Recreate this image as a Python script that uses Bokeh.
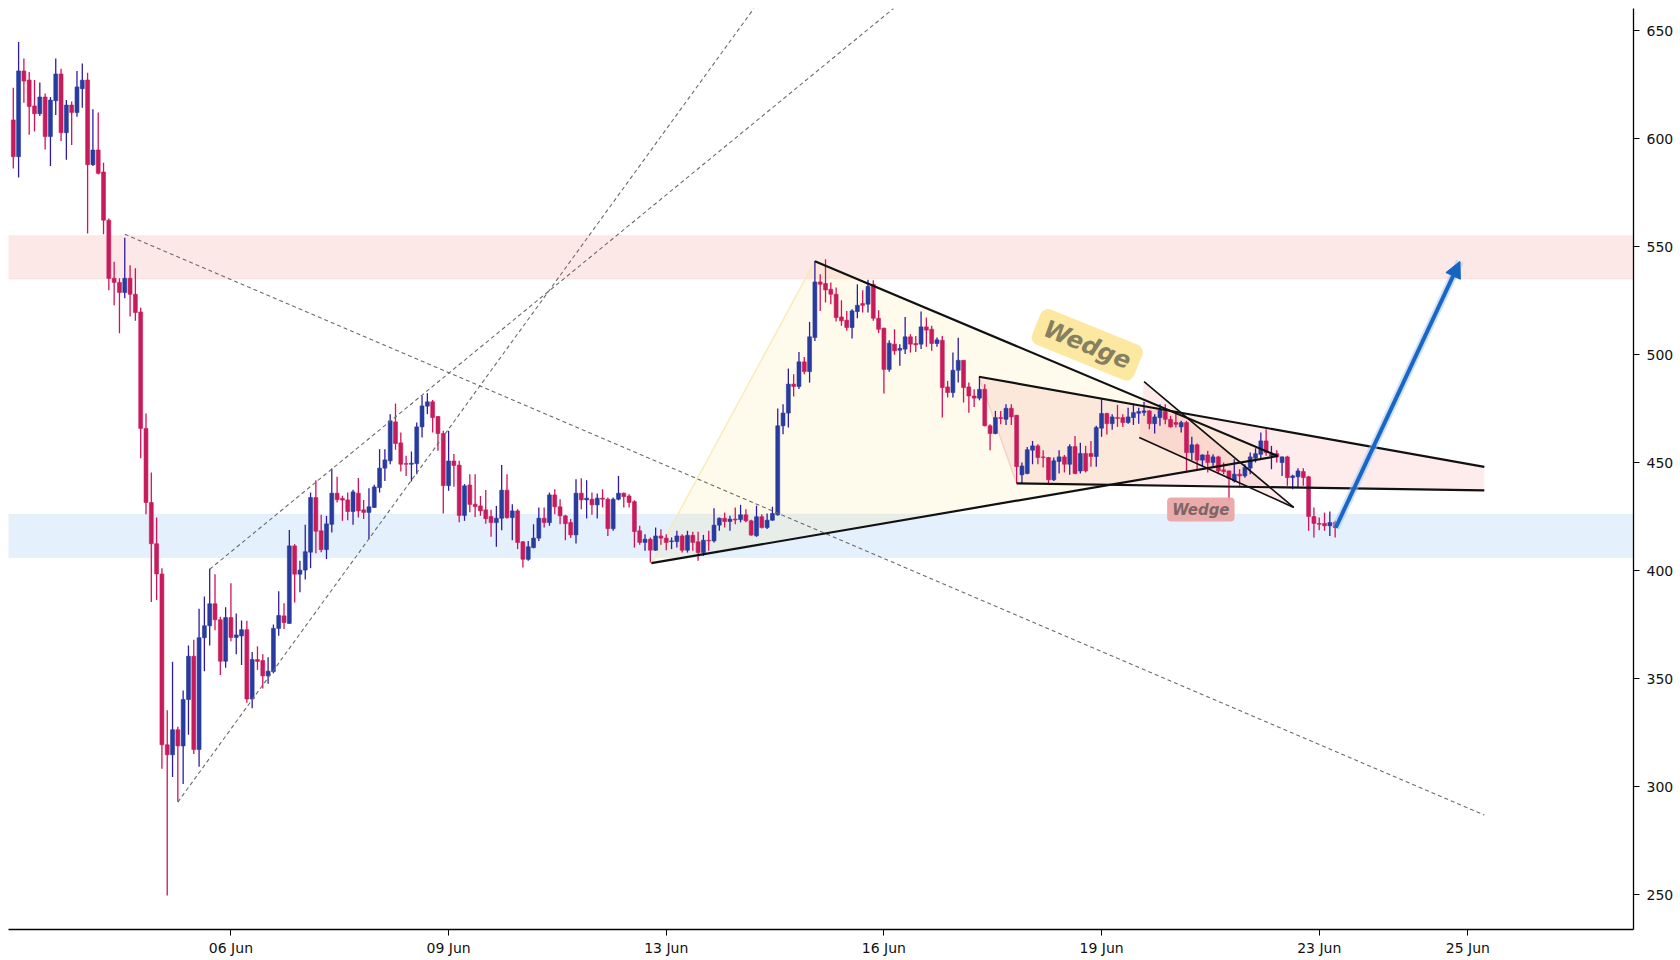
from bokeh.plotting import figure
from bokeh.models import (Range1d, FixedTicker, BoxAnnotation, Label, Arrow,
                          NormalHead, ColumnDataSource)
from bokeh.embed import file_html
from bokeh.resources import INLINE

# ---------------- data ----------------
opens = [608.6, 591.6, 631.3, 627.1, 615.1, 611.5, 619.2, 600.9, 617.5, 629.9,
         602.7, 615.5, 612.0, 623.1, 627.1, 587.9, 594.7, 584.5, 562.2, 535.3,
         533.4, 528.7, 535.3, 527.9, 519.7, 465.8, 431.5, 412.4, 398.4, 319.3,
         314.7, 326.3, 318.8, 340.3, 360.3, 317.1, 368.9, 374.4, 384.6, 377.2,
         358.0, 378.2, 369.0, 369.7, 372.6, 340.5, 358.8, 358.3, 351.2, 353.2,
         373.2, 379.0, 375.5, 411.4, 398.3, 400.2, 408.5, 433.8, 418.4, 409.7,
         421.4, 435.8, 433.4, 432.7, 427.3, 435.8, 428.1, 426.9, 429.2, 438.4,
         447.4, 450.8, 468.8, 459.1, 449.5, 449.2, 449.5, 466.5, 476.1, 478.1,
         471.3, 463.4, 439.3, 450.7, 448.8, 425.5, 439.6, 430.7, 429.9, 428.1,
         425.0, 422.2, 424.2, 437.2, 424.5, 427.6, 413.3, 405.2, 410.6, 415.0,
         424.2, 422.2, 435.0, 429.5, 425.3, 422.2, 416.5, 435.8, 432.7, 433.0,
         430.4, 433.5, 433.0, 419.4, 433.0, 435.8, 434.5, 431.9, 418.4, 413.0,
         414.5, 409.4, 416.0, 415.0, 413.4, 413.4, 416.0, 409.4, 416.3, 413.3,
         408.3, 414.0, 413.7, 421.0, 424.2, 422.7, 423.8, 423.6, 425.8, 423.0,
         416.1, 424.9, 419.9, 423.3, 425.8, 467.0, 472.9, 486.3, 485.2, 496.6,
         492.1, 507.9, 533.6, 532.9, 530.2, 527.9, 517.4, 515.9, 512.5, 519.9,
         523.6, 523.3, 532.5, 516.8, 512.2, 493.1, 504.8, 502.0, 502.5, 508.2,
         505.1, 504.8, 512.8, 511.7, 505.1, 506.6, 485.0, 482.4, 492.7, 497.3,
         485.0, 480.8, 479.8, 483.9, 467.0, 463.4, 470.8, 470.0, 475.1, 471.9,
         444.3, 444.9, 455.7, 457.7, 452.6, 452.3, 442.0, 450.5, 452.6, 449.2,
         457.4, 446.1, 454.2, 454.2, 452.8, 465.9, 472.7, 468.0, 470.8, 470.8,
         468.5, 470.8, 472.8, 473.2, 473.9, 468.0, 470.8, 473.6, 470.0, 468.5,
         466.5, 468.5, 454.6, 458.2, 451.1, 453.5, 450.0, 452.6, 446.6, 446.1,
         441.5, 444.6, 443.8, 447.4, 452.0, 453.8, 460.0, 453.1, 454.1, 450.0,
         452.6, 443.0, 443.4, 445.8, 443.4, 425.0, 421.8, 421.8, 420.7, 422.2]
highs = [623.5, 644.7, 637.0, 630.8, 627.1, 625.9, 620.8, 619.2, 637.0, 632.3,
         617.8, 617.1, 631.3, 634.7, 630.5, 613.5, 612.0, 588.8, 563.0, 542.9,
         535.3, 554.1, 541.3, 540.0, 521.7, 472.7, 445.4, 424.6, 401.0, 335.3,
         357.8, 327.7, 344.5, 365.3, 368.0, 382.3, 388.0, 400.8, 398.3, 378.6,
         383.0, 394.1, 380.1, 376.9, 376.7, 362.3, 364.9, 361.2, 359.8, 375.0,
         390.4, 384.8, 418.8, 412.2, 404.5, 421.2, 436.1, 441.8, 425.8, 425.3,
         447.2, 443.4, 434.6, 436.1, 437.4, 442.8, 432.7, 438.1, 439.7, 456.2,
         456.2, 472.4, 477.3, 463.9, 453.1, 455.1, 468.5, 480.9, 482.1, 479.0,
         471.5, 464.7, 464.7, 454.0, 450.8, 440.0, 444.6, 444.6, 434.5, 437.3,
         428.1, 429.9, 448.9, 444.6, 430.7, 428.4, 413.7, 413.7, 421.4, 429.2,
         429.2, 436.1, 437.6, 433.0, 425.8, 423.8, 442.3, 442.7, 441.8, 436.1,
         435.6, 437.6, 433.8, 433.8, 443.8, 436.1, 435.3, 432.5, 420.7, 416.8,
         415.3, 419.9, 419.1, 416.8, 415.3, 418.4, 416.8, 418.4, 418.0, 418.0,
         416.5, 418.4, 428.8, 424.5, 426.8, 425.3, 429.2, 430.4, 428.4, 423.5,
         430.0, 426.1, 426.4, 429.5, 475.0, 477.0, 493.5, 490.9, 501.2, 498.9,
         515.1, 543.3, 537.2, 544.1, 533.3, 531.0, 525.1, 520.2, 521.0, 532.5,
         529.8, 534.6, 534.4, 520.5, 512.4, 506.6, 511.7, 504.8, 517.4, 509.4,
         508.6, 519.9, 517.1, 513.3, 507.9, 508.6, 487.8, 500.9, 507.8, 497.5,
         487.0, 483.9, 489.6, 486.2, 467.7, 473.9, 473.9, 477.0, 477.0, 472.0,
         450.0, 457.2, 460.0, 458.5, 455.7, 452.6, 452.3, 455.7, 453.5, 458.5,
         462.3, 459.2, 457.7, 460.0, 467.0, 479.8, 473.1, 472.4, 476.7, 472.4,
         475.4, 476.7, 475.4, 478.0, 474.2, 472.3, 477.0, 477.0, 471.6, 472.7,
         469.3, 469.3, 461.9, 458.8, 453.8, 455.4, 453.8, 453.1, 450.0, 446.3,
         451.5, 446.9, 449.2, 454.6, 456.6, 463.9, 465.4, 457.7, 455.7, 452.8,
         453.1, 444.3, 447.4, 447.4, 443.8, 429.2, 424.5, 426.8, 427.3, 423.0]
lows = [586.1, 581.9, 616.6, 601.8, 603.2, 610.4, 594.9, 587.3, 610.9, 598.9,
        590.2, 597.0, 610.1, 614.3, 556.0, 587.3, 583.4, 555.7, 529.8, 522.8,
        509.9, 526.0, 517.6, 515.6, 452.0, 426.0, 385.4, 386.3, 308.2, 249.5,
        304.4, 293.0, 301.2, 324.0, 315.0, 309.1, 353.4, 365.3, 372.3, 351.6,
        355.0, 367.3, 361.2, 356.2, 338.8, 336.2, 354.0, 345.4, 347.6, 352.4,
        369.8, 372.9, 375.3, 385.2, 389.9, 395.8, 401.1, 408.0, 408.4, 405.3,
        417.6, 431.5, 423.0, 423.3, 421.2, 424.6, 423.8, 414.5, 428.9, 436.1,
        441.5, 449.2, 455.9, 445.8, 443.8, 441.2, 444.6, 461.6, 472.4, 463.9,
        455.4, 426.4, 436.9, 438.8, 422.3, 423.0, 427.0, 424.8, 425.3, 421.7,
        415.6, 411.0, 418.7, 424.0, 414.0, 409.9, 401.4, 404.5, 410.3, 413.7,
        419.9, 420.7, 426.1, 421.4, 414.0, 415.0, 412.5, 428.4, 424.1, 425.8,
        424.1, 429.2, 416.0, 418.4, 432.5, 429.2, 429.2, 410.6, 411.9, 409.1,
        403.7, 409.1, 411.9, 409.4, 409.9, 410.6, 408.3, 408.3, 409.1, 404.5,
        406.8, 409.1, 413.0, 418.4, 419.9, 418.4, 421.4, 422.3, 422.3, 416.1,
        415.6, 419.5, 419.2, 423.0, 425.3, 463.1, 466.2, 480.6, 484.0, 490.9,
        487.0, 506.3, 520.2, 524.1, 523.3, 515.3, 513.3, 511.0, 507.4, 516.8,
        519.4, 519.4, 515.6, 509.9, 482.0, 492.0, 499.9, 494.8, 500.2, 500.9,
        501.2, 502.5, 503.6, 501.7, 503.6, 470.8, 480.1, 480.1, 487.0, 477.8,
        473.1, 475.7, 478.8, 466.8, 455.7, 463.1, 467.7, 467.4, 467.4, 440.3,
        440.3, 444.6, 449.2, 449.2, 447.7, 440.3, 441.5, 444.9, 445.4, 444.3,
        444.6, 444.9, 445.4, 448.0, 448.0, 461.9, 463.0, 465.2, 466.5, 466.5,
        468.0, 467.4, 468.0, 471.6, 465.4, 463.4, 467.0, 467.7, 466.2, 466.2,
        463.9, 445.4, 451.1, 446.9, 448.4, 445.4, 447.7, 444.6, 444.6, 432.2,
        440.7, 439.2, 443.0, 444.6, 450.0, 451.5, 453.1, 446.9, 450.0, 443.8,
        439.2, 437.6, 438.4, 439.2, 418.4, 415.3, 418.7, 418.4, 416.0, 415.3]
closes = [591.6, 631.3, 626.6, 614.8, 611.5, 619.2, 600.9, 617.8, 629.9, 602.7,
          615.5, 612.0, 623.9, 627.0, 587.9, 594.7, 583.9, 562.2, 535.2, 533.4,
          528.7, 535.3, 527.9, 519.4, 465.8, 431.5, 412.4, 398.4, 319.3, 314.7,
          326.3, 318.8, 340.3, 360.3, 317.1, 368.9, 374.4, 384.6, 377.2, 358.0,
          378.2, 369.0, 370.2, 372.6, 340.5, 358.8, 357.9, 351.2, 353.4, 373.2,
          379.2, 375.9, 411.4, 398.3, 400.2, 408.7, 433.8, 418.2, 409.7, 421.6,
          435.8, 432.8, 432.6, 427.3, 436.4, 427.6, 426.9, 429.5, 438.7, 447.4,
          451.2, 469.3, 458.8, 449.2, 449.2, 449.7, 466.5, 476.2, 478.1, 470.8,
          463.4, 439.3, 450.7, 448.6, 425.5, 439.2, 430.6, 429.6, 427.6, 424.0,
          422.2, 424.2, 437.2, 424.5, 427.6, 413.0, 405.2, 411.0, 415.0, 424.2,
          422.2, 435.0, 429.5, 425.3, 421.7, 416.5, 435.8, 432.7, 433.5, 430.4,
          433.5, 433.0, 419.4, 433.0, 435.8, 434.2, 431.5, 418.0, 413.0, 414.5,
          409.4, 416.0, 415.0, 413.0, 413.7, 416.0, 409.4, 416.3, 413.0, 408.3,
          414.0, 413.7, 421.0, 424.2, 422.7, 423.8, 423.4, 425.8, 423.0, 416.4,
          424.9, 419.9, 423.3, 426.4, 467.0, 472.9, 486.3, 485.2, 496.6, 492.1,
          508.2, 533.6, 532.5, 529.9, 527.9, 517.1, 515.6, 512.5, 520.2, 522.8,
          522.8, 531.5, 516.8, 511.7, 493.1, 505.2, 501.7, 502.8, 508.2, 504.8,
          504.5, 512.8, 511.3, 505.1, 506.8, 484.7, 482.4, 492.7, 497.3, 484.7,
          480.8, 479.8, 483.9, 467.0, 463.4, 470.8, 470.4, 475.1, 471.1, 448.1,
          448.4, 455.9, 457.7, 452.3, 452.3, 442.0, 450.8, 452.6, 449.2, 457.4,
          444.9, 454.2, 446.1, 452.8, 466.2, 472.7, 468.0, 471.1, 470.4, 468.5,
          471.1, 473.1, 473.6, 473.9, 468.0, 471.1, 474.2, 470.0, 466.5, 467.7,
          468.5, 454.6, 458.2, 451.1, 453.5, 450.0, 452.6, 446.1, 445.8, 442.7,
          444.6, 443.8, 447.7, 452.6, 454.1, 460.0, 454.6, 453.8, 452.6, 452.6,
          443.0, 443.8, 446.1, 443.0, 425.0, 421.8, 421.4, 420.7, 422.2, 419.9]

tick_positions = [41, 82, 123, 164, 205, 246, 274]
tick_labels = ["06 Jun", "09 Jun", "13 Jun", "16 Jun", "19 Jun", "23 Jun", "25 Jun"]
price_ticks = [250, 300, 350, 400, 450, 500, 550, 600, 650]

resistance_zone = [535, 555]
support_zone = [406, 426]

trend_down_x = [21.0, 277.1]
trend_down_y = [555.7, 286.8]
channel_low_x = [31.0, 139.5]
channel_low_y = [292.8, 660.2]
channel_up_x = [37.0, 165.8]
channel_up_y = [400.6, 660.2]

big_wedge_x = [120.2, 151.0, 238.2]
big_wedge_y = [403.4, 543.2, 453.0]
mid_wedge_x = [181.9, 277.1, 277.1, 189.0]
mid_wedge_y = [489.7, 448.0, 437.1, 440.3]
small_wedge_x = [213.0, 241.2, 212.1]
small_wedge_y = [487.5, 429.2, 461.6]

arrow_x = [249.1, 272.5]
arrow_y = [419.8, 543.1]

big_label_pos = [202.3, 504.5]
small_label_pos = [223.7, 428.2]

# ---------------- figure ----------------
p = figure(width=1680, height=960, output_backend="svg", toolbar_location=None,
           x_range=Range1d(-0.9, 305.2), y_range=Range1d(233.8, 660.2),
           y_axis_location="right",
           min_border_left=8, min_border_top=8, min_border_right=47,
           min_border_bottom=31)
p.outline_line_color = None
p.xgrid.visible = False
p.ygrid.visible = False
p.background_fill_color = "white"

for ax in (p.xaxis[0], p.yaxis[0]):
    ax.axis_line_color = "black"
    ax.axis_line_width = 1.3
    ax.major_tick_line_color = "black"
    ax.major_tick_out = 6
    ax.major_tick_in = 0
    ax.minor_tick_line_color = None
    ax.major_label_text_font = "DejaVu Sans"
    ax.major_label_text_font_size = "14px"
    ax.major_label_text_color = "#111111"
    ax.major_label_standoff = 4

p.yaxis[0].major_label_standoff = 7

p.xaxis[0].ticker = FixedTicker(ticks=tick_positions)
p.xaxis[0].major_label_overrides = {t: l for t, l in zip(tick_positions, tick_labels)}
p.yaxis[0].ticker = FixedTicker(ticks=price_ticks)

# zones
p.add_layout(BoxAnnotation(bottom=resistance_zone[0], top=resistance_zone[1],
                           fill_color="#fde8e8", fill_alpha=1.0,
                           line_color="#f8cccc", line_width=1, level="underlay"))
p.add_layout(BoxAnnotation(bottom=support_zone[0], top=support_zone[1],
                           fill_color="#e4f1fc", fill_alpha=1.0,
                           line_color="#cce3f6", line_width=1, level="underlay"))

# wedge fills
p.patch(big_wedge_x, big_wedge_y, fill_color="#f7e08a", fill_alpha=0.16, line_color=None)
p.patch(mid_wedge_x, mid_wedge_y, fill_color="#f4a09a", fill_alpha=0.2, line_color=None)
p.patch(small_wedge_x, small_wedge_y, fill_color="#f4a09a", fill_alpha=0.22, line_color=None)
p.line(big_wedge_x[:2], big_wedge_y[:2], line_color="#f6e7ad", line_width=1.5, line_alpha=0.8)
p.line([mid_wedge_x[0], mid_wedge_x[3]], [mid_wedge_y[0], mid_wedge_y[3]],
       line_color="#f3c9c0", line_width=1.5, line_alpha=0.8)

# candles
idx = list(range(len(opens)))
up = [c >= o for o, c in zip(opens, closes)]
src = ColumnDataSource(dict(
    x=idx, o=opens, h=highs, l=lows, c=closes,
    top=[max(o, c) for o, c in zip(opens, closes)],
    bot=[min(o, c) for o, c in zip(opens, closes)],
    body=["#283b9e" if u else "#c71c5c" for u in up],
    wick=["#2f1ca0" if u else "#d4105b" for u in up],
))
p.segment(x0="x", y0="l", x1="x", y1="h", source=src, line_color="wick", line_width=1.3)
p.vbar(x="x", top="top", bottom="bot", width=0.74, source=src,
       fill_color="body", line_color="body", line_width=0.6)

# dashed trend lines
for xs, ys in ((trend_down_x, trend_down_y), (channel_low_x, channel_low_y),
               (channel_up_x, channel_up_y)):
    p.line(xs, ys, line_color="#6b6b6b", line_width=1.1, line_dash="4 3")

# wedge lines
p.line([big_wedge_x[0], big_wedge_x[2]], [big_wedge_y[0], big_wedge_y[2]],
       line_color="#111111", line_width=2.2)
p.line([big_wedge_x[1], big_wedge_x[2]], [big_wedge_y[1], big_wedge_y[2]],
       line_color="#111111", line_width=2.2)
p.line([mid_wedge_x[0], mid_wedge_x[1]], [mid_wedge_y[0], mid_wedge_y[1]],
       line_color="#111111", line_width=2.2)
p.line([mid_wedge_x[3], mid_wedge_x[2]], [mid_wedge_y[3], mid_wedge_y[2]],
       line_color="#111111", line_width=2.2)
p.line([small_wedge_x[0], small_wedge_x[1]], [small_wedge_y[0], small_wedge_y[1]],
       line_color="#111111", line_width=1.6)
p.line([small_wedge_x[2], small_wedge_x[1]], [small_wedge_y[2], small_wedge_y[1]],
       line_color="#111111", line_width=1.6)

# labels
p.add_layout(Label(x=big_label_pos[0], y=big_label_pos[1], text="Wedge",
                   angle=-22, angle_units="deg",
                   text_font="DejaVu Sans", text_font_size="24px",
                   text_font_style="bold italic", text_color="#858060",
                   text_align="center", text_baseline="middle",
                   background_fill_color="#fde79c", background_fill_alpha=0.95,
                   border_radius=8, padding=(9, 5)))
p.add_layout(Label(x=small_label_pos[0], y=small_label_pos[1], text="Wedge",
                   text_font="DejaVu Sans", text_font_size="15px",
                   text_font_style="bold italic", text_color="#7c6666",
                   text_align="center", text_baseline="middle",
                   background_fill_color="#e9a2a2", background_fill_alpha=0.9,
                   border_radius=4, padding=(5, 3)))

# arrow
p.line(arrow_x, arrow_y, line_color="#9cc4ef", line_width=8, line_alpha=0.5)
p.add_layout(Arrow(end=NormalHead(size=16, fill_color="#1565c0", line_color="#1565c0"),
                   x_start=arrow_x[0], y_start=arrow_y[0],
                   x_end=arrow_x[1], y_end=arrow_y[1],
                   line_color="#1a66c8", line_width=4))

open("out.html", "w").write(file_html(p, INLINE))
